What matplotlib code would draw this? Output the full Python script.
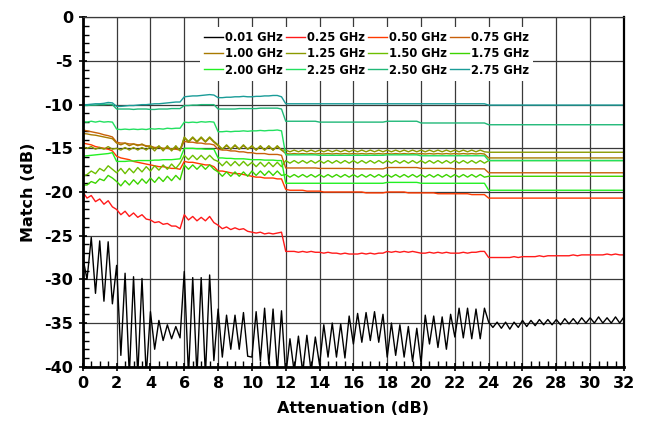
import matplotlib
matplotlib.use('Agg')
import matplotlib.pyplot as plt
import numpy as np
from matplotlib.ticker import MultipleLocator

# x positions (attenuation, dB) shared by all series, 0.25 dB steps
atten = np.arange(0, 32.001, 0.25)

labels = ['0.01 GHz', '0.25 GHz', '0.50 GHz', '0.75 GHz',
          '1.00 GHz', '1.25 GHz', '1.50 GHz', '1.75 GHz',
          '2.00 GHz', '2.25 GHz', '2.50 GHz', '2.75 GHz']
colors = ['#000000', '#ff1a1a', '#ff3a00', '#c8600a',
          '#a87a00', '#8a9a00', '#6cbf00', '#3cd400',
          '#22f022', '#22e060', '#20b878', '#1a9c98']

m001 = [-27.5, -30.0, -25.2, -31.6, -25.6, -32.5, -25.7, -32.8,
        -28.4, -38.7, -29.3, -41.0, -29.7, -41.0, -29.9, -41.0,
        -33.7, -38.0, -34.7, -37.0, -35.2, -36.8, -35.4, -36.7,
        -29.1, -41.0, -29.8, -41.0, -29.8, -41.0, -29.5, -39.3,
        -33.4, -38.9, -34.1, -38.0, -34.1, -38.0, -33.8, -38.8,
        -38.9, -33.7, -39.3, -33.3, -39.7, -33.4, -40.5, -33.6,
        -41.0, -36.8, -40.6, -36.5, -40.6, -36.4, -40.6, -36.6,
        -39.8, -35.2, -38.9, -35.0, -38.9, -35.1, -39.0, -34.2,
        -37.4, -33.9, -37.2, -33.8, -37.0, -33.7, -37.2, -34.0,
        -38.9, -35.0, -38.7, -35.2, -38.9, -35.4, -39.4, -35.6,
        -39.6, -34.1, -37.4, -34.2, -37.8, -34.3, -38.0, -34.0,
        -36.6, -33.3, -36.7, -33.3, -36.8, -33.4, -36.8, -33.3,
        -34.9, -35.5, -34.9, -35.6, -34.9, -35.7, -34.9, -35.5,
        -34.7, -35.4, -34.7, -35.3, -34.6, -35.2, -34.6, -35.2,
        -34.6, -35.2, -34.5, -35.1, -34.5, -35.1, -34.4, -35.0,
        -34.4, -35.0, -34.3, -35.0, -34.4, -35.0, -34.3, -35.0,
        -34.3]

m025 = [-20.0, -20.7, -20.4, -21.1, -20.8, -21.4, -21.0, -21.7,
        -22.0, -22.6, -22.2, -22.8, -22.4, -22.9, -22.6, -23.1,
        -23.2, -23.5, -23.4, -23.7, -23.6, -23.9, -23.9, -24.2,
        -22.6, -23.2, -22.8, -23.3, -22.9, -23.3, -22.8, -23.5,
        -23.8, -24.2, -24.0, -24.3, -24.1, -24.3, -24.2, -24.5,
        -24.6, -24.7, -24.6, -24.8, -24.7, -24.8, -24.7, -24.6,
        -26.8, -26.8, -26.8, -26.9, -26.8, -26.9, -26.8, -26.9,
        -26.9, -27.0, -26.9, -27.0, -27.0, -27.1, -27.0, -27.1,
        -27.1, -27.1, -27.0, -27.1, -27.0, -27.1, -27.0, -27.0,
        -26.8, -26.9, -26.8, -26.9, -26.8, -26.9, -26.8, -26.9,
        -27.0, -27.0, -26.9, -27.0, -26.9, -27.0, -26.9, -27.0,
        -27.0, -27.0, -26.9, -27.0, -26.9, -26.9, -26.8, -26.8,
        -27.5, -27.5, -27.5, -27.5, -27.5, -27.5, -27.4, -27.5,
        -27.4, -27.4, -27.4, -27.4, -27.3, -27.4, -27.3, -27.3,
        -27.3, -27.3, -27.3, -27.3, -27.2, -27.3, -27.2, -27.2,
        -27.2, -27.2, -27.2, -27.2, -27.1, -27.2, -27.1, -27.2,
        -27.2]

m050 = [-14.4, -14.5, -14.6, -14.8, -14.9, -15.0, -15.1, -15.3,
        -15.9, -16.1, -16.2, -16.3, -16.5, -16.6, -16.7, -16.8,
        -16.9, -17.0, -17.1, -17.1, -17.2, -17.3, -17.3, -17.4,
        -16.5, -16.6, -16.6, -16.7, -16.8, -16.9, -16.9, -17.1,
        -17.6, -17.6, -17.7, -17.8, -17.9, -17.9, -18.0, -18.1,
        -18.2, -18.3, -18.3, -18.4, -18.4, -18.4, -18.5, -18.5,
        -19.7, -19.8, -19.8, -19.8, -19.8, -19.9, -19.9, -19.9,
        -19.9, -20.0, -20.0, -20.0, -20.0, -20.0, -20.0, -20.0,
        -20.0, -20.0, -20.0, -20.1, -20.1, -20.1, -20.1, -20.1,
        -20.0, -20.0, -20.0, -20.0, -20.0, -20.1, -20.1, -20.1,
        -20.1, -20.1, -20.1, -20.1, -20.2, -20.2, -20.2, -20.2,
        -20.2, -20.2, -20.2, -20.2, -20.3, -20.3, -20.3, -20.3,
        -20.7, -20.7, -20.7, -20.7, -20.7, -20.7, -20.7, -20.7,
        -20.7, -20.7, -20.7, -20.7, -20.7, -20.7, -20.7, -20.7,
        -20.7, -20.7, -20.7, -20.7, -20.7, -20.7, -20.7, -20.7,
        -20.7, -20.7, -20.7, -20.7, -20.7, -20.7, -20.7, -20.7,
        -20.7]

m075 = [-12.9, -13.0, -13.1, -13.2, -13.3, -13.45, -13.55, -13.7,
        -14.3, -14.4, -14.4, -14.5, -14.5, -14.6, -14.6, -14.7,
        -14.8, -14.9, -14.9, -15.0, -15.0, -15.1, -15.1, -15.2,
        -14.2, -14.3, -14.3, -14.4, -14.4, -14.5, -14.5, -14.6,
        -15.1, -15.2, -15.2, -15.3, -15.3, -15.4, -15.4, -15.5,
        -15.5, -15.6, -15.6, -15.6, -15.7, -15.7, -15.7, -15.8,
        -17.25, -17.25, -17.25, -17.25, -17.25, -17.25, -17.25, -17.25,
        -17.3, -17.3, -17.3, -17.3, -17.3, -17.3, -17.3, -17.3,
        -17.35, -17.35, -17.35, -17.35, -17.35, -17.35, -17.35, -17.35,
        -17.2, -17.2, -17.2, -17.2, -17.2, -17.2, -17.2, -17.2,
        -17.3, -17.3, -17.3, -17.3, -17.3, -17.3, -17.3, -17.3,
        -17.35, -17.35, -17.35, -17.35, -17.35, -17.35, -17.35, -17.35,
        -17.8, -17.8, -17.8, -17.8, -17.8, -17.8, -17.8, -17.8,
        -17.8, -17.8, -17.8, -17.8, -17.8, -17.8, -17.8, -17.8,
        -17.8, -17.8, -17.8, -17.8, -17.8, -17.8, -17.8, -17.8,
        -17.8, -17.8, -17.8, -17.8, -17.8, -17.8, -17.8, -17.8,
        -17.8]

m100 = [-13.3, -13.35, -13.45, -13.5, -13.6, -13.7, -13.8, -13.9,
        -14.4, -14.6, -14.4, -14.7, -14.5, -14.7, -14.5, -14.8,
        -14.7, -15.0, -14.8, -15.1, -14.9, -15.1, -14.9, -15.2,
        -13.8, -14.3, -13.8, -14.3, -13.8, -14.3, -13.8, -14.3,
        -14.7, -15.1, -14.7, -15.1, -14.7, -15.1, -14.7, -15.1,
        -14.8, -15.2, -14.8, -15.2, -14.8, -15.2, -14.8, -15.2,
        -15.6, -15.65, -15.6, -15.65, -15.6, -15.65, -15.6, -15.65,
        -15.6, -15.65, -15.6, -15.65, -15.6, -15.65, -15.6, -15.65,
        -15.6, -15.65, -15.6, -15.65, -15.6, -15.65, -15.6, -15.65,
        -15.6, -15.65, -15.6, -15.65, -15.6, -15.65, -15.6, -15.65,
        -15.6, -15.65, -15.6, -15.65, -15.6, -15.65, -15.6, -15.65,
        -15.6, -15.65, -15.6, -15.65, -15.6, -15.65, -15.6, -15.65,
        -16.1, -16.1, -16.1, -16.1, -16.1, -16.1, -16.1, -16.1,
        -16.1, -16.1, -16.1, -16.1, -16.1, -16.1, -16.1, -16.1,
        -16.1, -16.1, -16.1, -16.1, -16.1, -16.1, -16.1, -16.1,
        -16.1, -16.1, -16.1, -16.1, -16.1, -16.1, -16.1, -16.1,
        -16.1]

m125 = [-14.8, -15.0, -14.8, -15.1, -14.9, -15.1, -14.8, -15.1,
        -15.0, -15.2, -14.9, -15.2, -14.9, -15.2, -14.9, -15.2,
        -14.8, -15.3, -14.7, -15.3, -14.7, -15.3, -14.7, -15.3,
        -13.7, -14.2, -13.7, -14.2, -13.7, -14.2, -13.7, -14.2,
        -14.6, -15.1, -14.6, -15.1, -14.6, -15.1, -14.6, -15.1,
        -14.7, -15.2, -14.7, -15.2, -14.7, -15.2, -14.7, -15.2,
        -15.2, -15.4, -15.2, -15.4, -15.2, -15.4, -15.2, -15.4,
        -15.2, -15.4, -15.2, -15.4, -15.2, -15.4, -15.2, -15.4,
        -15.2, -15.4, -15.2, -15.4, -15.2, -15.4, -15.2, -15.4,
        -15.2, -15.4, -15.2, -15.4, -15.2, -15.4, -15.2, -15.4,
        -15.2, -15.4, -15.2, -15.4, -15.2, -15.4, -15.2, -15.4,
        -15.2, -15.4, -15.2, -15.4, -15.2, -15.4, -15.2, -15.4,
        -15.45, -15.45, -15.45, -15.45, -15.45, -15.45, -15.45, -15.45,
        -15.45, -15.45, -15.45, -15.45, -15.45, -15.45, -15.45, -15.45,
        -15.45, -15.45, -15.45, -15.45, -15.45, -15.45, -15.45, -15.45,
        -15.45, -15.45, -15.45, -15.45, -15.45, -15.45, -15.45, -15.45,
        -15.45]

m150 = [-18.2, -18.0, -17.6, -17.9, -17.3, -17.6, -17.0, -17.4,
        -17.8, -17.3, -17.9, -17.3, -17.8, -17.2, -17.7, -17.1,
        -17.6, -17.0, -17.5, -16.9, -17.4, -16.8, -17.3, -16.7,
        -15.8, -16.3, -15.8, -16.3, -15.8, -16.3, -15.8, -16.3,
        -16.5, -17.0, -16.5, -17.0, -16.5, -17.0, -16.5, -17.0,
        -16.6, -17.1, -16.6, -17.1, -16.6, -17.1, -16.6, -17.1,
        -16.4, -16.7, -16.4, -16.7, -16.4, -16.7, -16.4, -16.7,
        -16.4, -16.7, -16.4, -16.7, -16.4, -16.7, -16.4, -16.7,
        -16.4, -16.7, -16.4, -16.7, -16.4, -16.7, -16.4, -16.7,
        -16.4, -16.7, -16.4, -16.7, -16.4, -16.7, -16.4, -16.7,
        -16.4, -16.7, -16.4, -16.7, -16.4, -16.7, -16.4, -16.7,
        -16.4, -16.7, -16.4, -16.7, -16.4, -16.7, -16.4, -16.7,
        -16.4, -16.4, -16.4, -16.4, -16.4, -16.4, -16.4, -16.4,
        -16.4, -16.4, -16.4, -16.4, -16.4, -16.4, -16.4, -16.4,
        -16.4, -16.4, -16.4, -16.4, -16.4, -16.4, -16.4, -16.4,
        -16.4, -16.4, -16.4, -16.4, -16.4, -16.4, -16.4, -16.4,
        -16.4]

m175 = [-19.2, -19.2, -18.8, -19.0, -18.5, -18.7, -18.1, -18.4,
        -18.8, -19.3, -18.7, -19.2, -18.6, -19.1, -18.5, -19.0,
        -18.4, -18.9, -18.3, -18.8, -18.2, -18.7, -18.1, -18.6,
        -16.9, -17.4, -16.9, -17.4, -16.9, -17.4, -16.9, -17.4,
        -17.7, -18.2, -17.7, -18.2, -17.7, -18.2, -17.7, -18.2,
        -17.6, -18.1, -17.6, -18.1, -17.6, -18.1, -17.6, -18.1,
        -18.0, -18.3, -18.0, -18.3, -18.0, -18.3, -18.0, -18.3,
        -18.0, -18.3, -18.0, -18.3, -18.0, -18.3, -18.0, -18.3,
        -18.0, -18.3, -18.0, -18.3, -18.0, -18.3, -18.0, -18.3,
        -18.0, -18.3, -18.0, -18.3, -18.0, -18.3, -18.0, -18.3,
        -18.0, -18.3, -18.0, -18.3, -18.0, -18.3, -18.0, -18.3,
        -18.0, -18.3, -18.0, -18.3, -18.0, -18.3, -18.0, -18.3,
        -18.2, -18.2, -18.2, -18.2, -18.2, -18.2, -18.2, -18.2,
        -18.2, -18.2, -18.2, -18.2, -18.2, -18.2, -18.2, -18.2,
        -18.2, -18.2, -18.2, -18.2, -18.2, -18.2, -18.2, -18.2,
        -18.2, -18.2, -18.2, -18.2, -18.2, -18.2, -18.2, -18.2,
        -18.2]

m200 = [-15.9, -15.85, -15.8, -15.75, -15.7, -15.65, -15.6, -15.5,
        -16.5, -16.5, -16.5, -16.45, -16.45, -16.4, -16.4, -16.4,
        -16.4, -16.35, -16.35, -16.3, -16.3, -16.3, -16.25, -16.2,
        -15.0, -15.0, -15.0, -15.05, -15.05, -15.1, -15.1, -15.1,
        -16.1, -16.1, -16.15, -16.15, -16.2, -16.2, -16.2, -16.25,
        -16.3, -16.3, -16.3, -16.35, -16.35, -16.35, -16.4, -16.4,
        -19.0, -19.0, -19.0, -19.0, -19.0, -19.0, -19.0, -19.0,
        -19.0, -19.0, -19.0, -19.0, -19.0, -19.0, -19.0, -19.0,
        -19.0, -19.0, -19.0, -19.0, -19.0, -19.0, -19.0, -19.0,
        -18.9, -18.9, -18.9, -18.9, -18.9, -18.9, -18.9, -18.9,
        -19.0, -19.0, -19.0, -19.0, -19.0, -19.0, -19.0, -19.0,
        -19.0, -19.0, -19.0, -19.0, -19.0, -19.0, -19.0, -19.0,
        -19.8, -19.8, -19.8, -19.8, -19.8, -19.8, -19.8, -19.8,
        -19.8, -19.8, -19.8, -19.8, -19.8, -19.8, -19.8, -19.8,
        -19.8, -19.8, -19.8, -19.8, -19.8, -19.8, -19.8, -19.8,
        -19.8, -19.8, -19.8, -19.8, -19.8, -19.8, -19.8, -19.8,
        -19.8]

m225 = [-11.95, -12.0, -11.9, -12.0, -11.9, -12.0, -11.95, -12.0,
        -12.8, -12.85, -12.8, -12.85, -12.8, -12.85, -12.8, -12.85,
        -12.75, -12.8, -12.75, -12.8, -12.7, -12.75, -12.7, -12.7,
        -12.0, -12.05, -12.0, -12.05, -11.95, -12.0, -11.95, -12.0,
        -13.1, -13.1, -13.05, -13.1, -13.05, -13.05, -13.0, -13.05,
        -13.0, -13.0, -12.95, -13.0, -12.95, -12.95, -12.9, -13.0,
        -15.75, -15.75, -15.75, -15.75, -15.75, -15.75, -15.75, -15.75,
        -15.8, -15.8, -15.8, -15.8, -15.8, -15.8, -15.8, -15.8,
        -15.8, -15.8, -15.8, -15.8, -15.8, -15.8, -15.8, -15.8,
        -15.75, -15.75, -15.75, -15.75, -15.75, -15.75, -15.75, -15.75,
        -15.85, -15.85, -15.85, -15.85, -15.85, -15.85, -15.85, -15.85,
        -15.85, -15.85, -15.85, -15.85, -15.85, -15.85, -15.85, -15.85,
        -16.4, -16.4, -16.4, -16.4, -16.4, -16.4, -16.4, -16.4,
        -16.4, -16.4, -16.4, -16.4, -16.4, -16.4, -16.4, -16.4,
        -16.4, -16.4, -16.4, -16.4, -16.4, -16.4, -16.4, -16.4,
        -16.4, -16.4, -16.4, -16.4, -16.4, -16.4, -16.4, -16.4,
        -16.4]

m250 = [-10.1, -10.1, -10.05, -10.05, -10.0, -10.0, -9.95, -10.0,
        -10.5, -10.5, -10.5, -10.5, -10.55, -10.5, -10.5, -10.5,
        -10.55, -10.55, -10.5, -10.5, -10.5, -10.45, -10.45, -10.45,
        -10.1, -10.1, -10.05, -10.05, -10.0, -10.0, -10.0, -10.0,
        -10.5, -10.5, -10.5, -10.5, -10.5, -10.45, -10.45, -10.45,
        -10.45, -10.45, -10.4, -10.4, -10.4, -10.4, -10.4, -10.5,
        -11.9, -11.9, -11.9, -11.9, -11.9, -11.9, -11.9, -11.9,
        -12.0, -12.0, -12.0, -12.0, -12.0, -12.0, -12.0, -12.0,
        -12.0, -12.0, -12.0, -12.0, -12.0, -12.0, -12.0, -12.0,
        -11.9, -11.9, -11.9, -11.9, -11.9, -11.9, -11.9, -11.9,
        -12.1, -12.1, -12.1, -12.1, -12.1, -12.1, -12.1, -12.1,
        -12.1, -12.1, -12.1, -12.1, -12.1, -12.1, -12.1, -12.1,
        -12.3, -12.3, -12.3, -12.3, -12.3, -12.3, -12.3, -12.3,
        -12.3, -12.3, -12.3, -12.3, -12.3, -12.3, -12.3, -12.3,
        -12.3, -12.3, -12.3, -12.3, -12.3, -12.3, -12.3, -12.3,
        -12.3, -12.3, -12.3, -12.3, -12.3, -12.3, -12.3, -12.3,
        -12.3]

m275 = [-10.0, -10.0, -9.95, -9.9, -9.9, -9.85, -9.75, -9.8,
        -10.2, -10.2, -10.15, -10.1, -10.1, -10.05, -10.0, -10.0,
        -9.95, -9.9, -9.9, -9.85, -9.8, -9.75, -9.7, -9.7,
        -9.1, -9.05, -9.0, -9.0, -8.95, -8.9, -8.85, -8.9,
        -9.2, -9.2, -9.15, -9.15, -9.1, -9.1, -9.05, -9.1,
        -9.1, -9.05, -9.05, -9.0, -9.0, -8.95, -8.95, -9.1,
        -9.9, -9.9, -9.9, -9.9, -9.9, -9.9, -9.9, -9.9,
        -9.9, -9.9, -9.9, -9.9, -9.9, -9.9, -9.9, -9.9,
        -9.9, -9.9, -9.9, -9.9, -9.9, -9.9, -9.9, -9.9,
        -9.9, -9.9, -9.9, -9.9, -9.9, -9.9, -9.9, -9.9,
        -9.9, -9.9, -9.9, -9.9, -9.9, -9.9, -9.9, -9.9,
        -9.9, -9.9, -9.9, -9.9, -9.9, -9.9, -9.9, -9.9,
        -10.05, -10.05, -10.05, -10.05, -10.05, -10.05, -10.05, -10.05,
        -10.05, -10.05, -10.05, -10.05, -10.05, -10.05, -10.05, -10.05,
        -10.05, -10.05, -10.05, -10.05, -10.05, -10.05, -10.05, -10.05,
        -10.05, -10.05, -10.05, -10.05, -10.05, -10.05, -10.05, -10.05,
        -10.05]

series = [m001, m025, m050, m075, m100, m125, m150, m175, m200, m225, m250, m275]

plt.rcParams['font.family'] = ['DejaVu Sans']
plt.rcParams['axes.unicode_minus'] = False
fig = plt.figure(figsize=(6.52, 4.28), dpi=100)
ax = fig.add_axes([0.127, 0.1432, 0.830, 0.8164])

handles = []
for vals, lab, col in zip(series, labels, colors):
    h, = ax.plot(atten, vals, color=col, lw=1.0, label=lab)
    handles.append(h)

ax.set_xlim(0, 32)
ax.set_ylim(-40, 0)
ax.xaxis.set_major_locator(MultipleLocator(2))
ax.xaxis.set_minor_locator(MultipleLocator(0.5))
ax.yaxis.set_major_locator(MultipleLocator(5))
ax.yaxis.set_minor_locator(MultipleLocator(1))
ax.grid(True, which='major', color='#3a3a3a', lw=0.9)
ax.set_axisbelow(True)
ax.tick_params(which='major', direction='inout', length=6, width=1.2, labelsize=11.5, pad=4)
ax.tick_params(which='minor', direction='in', length=4, width=1.0)
for lbl in ax.get_xticklabels() + ax.get_yticklabels():
    lbl.set_fontweight('bold')
for s in ['left', 'bottom']:
    ax.spines[s].set_linewidth(2.0)
ax.spines['right'].set_linewidth(1.6)
ax.spines['top'].set_linewidth(0.9)
ax.spines['top'].set_color('#3a3a3a')

ax.set_xlabel('Attenuation (dB)', fontsize=11.5, fontweight='bold', labelpad=7)
ax.set_ylabel('Match (dB)', fontsize=11.5, fontweight='bold', labelpad=6)

order = [0, 4, 8, 1, 5, 9, 2, 6, 10, 3, 7, 11]
leg = ax.legend([handles[i] for i in order], [labels[i] for i in order],
                ncol=4, loc='upper center', bbox_to_anchor=(0.5246, 0.99),
                frameon=True, facecolor='white', edgecolor='none', framealpha=1,
                fancybox=False, handlelength=1.6, handletextpad=0.2,
                columnspacing=0.3, labelspacing=0.3, borderpad=0.35,
                prop={'weight': 'bold', 'size': 8.3})

fig.savefig('out.png', dpi=100)
